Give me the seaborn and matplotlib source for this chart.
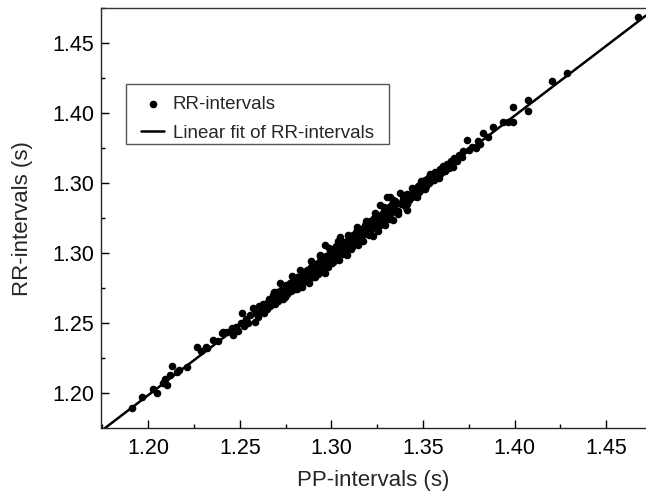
import matplotlib
matplotlib.use("Agg")
import matplotlib.pyplot as plt
from matplotlib.patches import Rectangle
from matplotlib.ticker import MultipleLocator, FixedLocator, FormatStrFormatter
import seaborn as sns

# PP / RR intervals (seconds)
pp_intervals = [
    1.1913, 1.1967, 1.2027, 1.2049, 1.2079, 1.2090, 1.2100, 1.2120, 1.2128, 1.2155, 1.2170, 1.2210,
    1.2264, 1.2290, 1.2315, 1.2319, 1.2355, 1.2380, 1.2401, 1.2409, 1.2430,
    1.2455, 1.2462, 1.2480, 1.2490, 1.2510, 1.2505, 1.2520, 1.2535, 1.2545, 1.2555, 1.2571, 1.2582, 1.2590, 1.2600, 1.2605,
    1.2615, 1.2625, 1.2630, 1.2646, 1.2650, 1.2660, 1.2665, 1.2675, 1.2680, 1.2690, 1.2700, 1.2705, 1.2710,
    1.2719, 1.2725, 1.2730, 1.2740, 1.2746, 1.2750, 1.2755, 1.2760, 1.2770, 1.2775, 1.2780, 1.2791, 1.2795,
    1.2800, 1.2805, 1.2810, 1.2815, 1.2820, 1.2828, 1.2830, 1.2835, 1.2840, 1.2845, 1.2850, 1.2855, 1.2860, 1.2865,
    1.2870, 1.2875, 1.2883, 1.2885, 1.2890, 1.2895, 1.2900, 1.2905, 1.2910, 1.2915, 1.2920, 1.2925, 1.2930, 1.2937,
    1.2940, 1.2945, 1.2950, 1.2955, 1.2960, 1.2965, 1.2967, 1.2970, 1.2975, 1.2980, 1.2985, 1.2990, 1.2995,
    1.3000, 1.3005, 1.3010, 1.3015, 1.3020, 1.3025, 1.3030, 1.3035, 1.3040, 1.3046, 1.3050, 1.3055, 1.3060, 1.3065,
    1.3070, 1.3075, 1.3083, 1.3085, 1.3090, 1.3095, 1.3100, 1.3105, 1.3110, 1.3115, 1.3120, 1.3125, 1.3130,
    1.3135, 1.3140, 1.3145, 1.3150, 1.3155, 1.3160, 1.3165, 1.3170, 1.3175, 1.3180, 1.3185, 1.3192, 1.3195,
    1.3200, 1.3205, 1.3210, 1.3215, 1.3220, 1.3228, 1.3230, 1.3235, 1.3240, 1.3245, 1.3250, 1.3255,
    1.3260, 1.3265, 1.3270, 1.3275, 1.3280, 1.3285, 1.3290, 1.3295, 1.3300, 1.3304, 1.3310, 1.3315,
    1.3319, 1.3325, 1.3330, 1.3335, 1.3340, 1.3345, 1.3350, 1.3360, 1.3365, 1.3374, 1.3380, 1.3390,
    1.3400, 1.3410, 1.3415, 1.3425, 1.3439, 1.3445, 1.3455, 1.3465, 1.3470, 1.3480, 1.3490, 1.3500,
    1.3510, 1.3515, 1.3525, 1.3535, 1.3545, 1.3555, 1.3565, 1.3575, 1.3585, 1.3590, 1.3600,
    1.3610, 1.3620, 1.3630, 1.3640, 1.3650, 1.3664, 1.3670, 1.3685, 1.3695, 1.3710, 1.3720, 1.3742, 1.3750, 1.3765, 1.3787, 1.3800, 1.3810,
    1.3829, 1.3856, 1.3883, 1.3938, 1.3965, 1.3992, 1.3992, 1.4074, 1.4074, 1.4202, 1.4287, 1.4675,
    # edges of the dense band
    1.2685, 1.2735, 1.2785, 1.2812, 1.2838, 1.2862, 1.2888, 1.2912, 1.2938, 1.2962, 1.2988, 1.3012,
    1.3038, 1.3062, 1.3088, 1.3112, 1.3138, 1.3162, 1.3188, 1.3212, 1.3238, 1.3262, 1.3288, 1.3312,
    1.3338, 1.3362, 1.3388, 1.3412, 1.3438, 1.3462, 1.3488, 1.3512, 1.3538, 1.3562,
]
rr_intervals = [
    1.1893, 1.1976, 1.2029, 1.2000, 1.2076, 1.2100, 1.2059, 1.2130, 1.2195, 1.2154, 1.2165, 1.2190,
    1.2329, 1.2300, 1.2333, 1.2320, 1.2381, 1.2370, 1.2433, 1.2440, 1.2435,
    1.2464, 1.2416, 1.2470, 1.2445, 1.2571, 1.2500, 1.2480, 1.2530, 1.2505, 1.2560, 1.2609, 1.2511, 1.2575, 1.2548, 1.2620,
    1.2590, 1.2640, 1.2570, 1.2643, 1.2600, 1.2670, 1.2625, 1.2650, 1.2700, 1.2640, 1.2690, 1.2720, 1.2660,
    1.2786, 1.2740, 1.2690, 1.2725, 1.2690, 1.2770, 1.2745, 1.2710, 1.2760, 1.2790, 1.2730, 1.2810, 1.2770,
    1.2745, 1.2800, 1.2830, 1.2770, 1.2810, 1.2881, 1.2790, 1.2840, 1.2760, 1.2820, 1.2860, 1.2800, 1.2845, 1.2880,
    1.2820, 1.2790, 1.2821, 1.2870, 1.2905, 1.2850, 1.2880, 1.2830, 1.2920, 1.2870, 1.2900, 1.2850, 1.2940, 1.2988,
    1.2900, 1.2870, 1.2950, 1.2869, 1.2920, 1.3060, 1.2857, 1.2980, 1.2940, 1.2900, 1.2970, 1.3010, 1.2950,
    1.2990, 1.2930, 1.3030, 1.2970, 1.3010, 1.3050, 1.2980, 1.3020, 1.2950, 1.3119, 1.3060, 1.3000, 1.3040, 1.3080,
    1.3010, 1.3060, 1.2988, 1.3090, 1.3040, 1.3110, 1.3070, 1.3030, 1.3100, 1.3130, 1.3060, 1.3110, 1.3080,
    1.3150, 1.3100, 1.3060, 1.3140, 1.3170, 1.3110, 1.3150, 1.3090, 1.3180, 1.3140, 1.3200, 1.3214, 1.3150,
    1.3190, 1.3130, 1.3230, 1.3170, 1.3210, 1.3120, 1.3250, 1.3190, 1.3230, 1.3270, 1.3200, 1.3160,
    1.3260, 1.3345, 1.3230, 1.3280, 1.3210, 1.3300, 1.3250, 1.3200, 1.3310, 1.3405, 1.3270, 1.3330,
    1.3404, 1.3290, 1.3350, 1.3240, 1.3320, 1.3370, 1.3300, 1.3360, 1.3280, 1.3429, 1.3350, 1.3390,
    1.3340, 1.3310, 1.3420, 1.3380, 1.3405, 1.3450, 1.3410, 1.3404, 1.3480, 1.3440, 1.3500, 1.3460,
    1.3520, 1.3480, 1.3540, 1.3500, 1.3560, 1.3520, 1.3580, 1.3545, 1.3536, 1.3600, 1.3570,
    1.3620, 1.3590, 1.3640, 1.3610, 1.3660, 1.3619, 1.3680, 1.3660, 1.3700, 1.3690, 1.3730, 1.3810, 1.3740, 1.3760, 1.3750, 1.3800, 1.3780,
    1.3857, 1.3829, 1.3904, 1.3940, 1.3940, 1.3940, 1.4047, 1.4095, 1.4016, 1.4231, 1.4286, 1.4690,
    # edges of the dense band
    1.2725, 1.2675, 1.2835, 1.2742, 1.2868, 1.2812, 1.2948, 1.2832, 1.2978, 1.2892, 1.3038, 1.2942,
    1.3088, 1.2992, 1.3128, 1.3042, 1.3188, 1.3092, 1.3228, 1.3152, 1.3288, 1.3192, 1.3328, 1.3242,
    1.3378, 1.3302, 1.3418, 1.3352, 1.3468, 1.3412, 1.3518, 1.3462, 1.3568, 1.3522,
]

y_tick_values = [1.20, 1.25, 1.30, 1.35, 1.40, 1.45]
y_tick_labels = ["1.20", "1.25", "1.30", "1.30", "1.40", "1.45"]

sns.set_style("ticks")
plt.rcParams['font.family'] = ['Liberation Sans', 'DejaVu Sans']
plt.rcParams['axes.linewidth'] = 1.0

fig = plt.figure(figsize=(6.46, 4.97), dpi=100)
ax = fig.add_axes([101 / 646, 69 / 497, 545 / 646, 419.7 / 497])
ax.set_xlim(1.1742, 1.4717)
ax.set_ylim(1.1752, 1.4750)

sns.regplot(x=pp_intervals, y=rr_intervals, ax=ax, ci=None, truncate=False, color="black",
            scatter_kws=dict(s=30, alpha=1, linewidths=0),
            line_kws=dict(lw=1.8))
ax.collections[0].set_label("RR-intervals")
ax.lines[0].set_label("Linear fit of RR-intervals")

ax.set_xlim(1.1742, 1.4717)
ax.set_ylim(1.1752, 1.4750)

ax.xaxis.set_major_locator(FixedLocator([1.20, 1.25, 1.30, 1.35, 1.40, 1.45]))
ax.xaxis.set_major_formatter(FormatStrFormatter("%.2f"))
ax.xaxis.set_minor_locator(MultipleLocator(0.025))
ax.yaxis.set_major_locator(FixedLocator(y_tick_values))
ax.set_yticklabels(y_tick_labels)
ax.yaxis.set_minor_locator(MultipleLocator(0.025))
ax.tick_params(which="both", direction="in", labelsize=15.5, colors="black")
ax.tick_params(which="major", length=6, width=1)
ax.tick_params(which="minor", length=3, width=1)
ax.tick_params(axis="x", pad=7)
ax.tick_params(axis="y", pad=5)

ax.spines["right"].set_visible(False)
ax.spines["top"].set_color("#333333")

ax.set_xlabel("PP-intervals (s)", fontsize=16, labelpad=8)
ax.set_ylabel("RR-intervals (s)", fontsize=16, labelpad=14)

# legend box drawn separately so its padding can match the original
ax.add_patch(Rectangle((126 / 646, 1 - 144 / 497), 263 / 646, 60 / 497,
                       transform=fig.transFigure, facecolor="white",
                       edgecolor="#555555", lw=1.0, zorder=4))
leg = ax.legend(loc="upper left", bbox_to_anchor=(141 / 646, 1 - 96 / 497),
                bbox_transform=fig.transFigure, borderaxespad=0, borderpad=0,
                fontsize=13.5, frameon=False,
                handlelength=1.25, handletextpad=0.45, labelspacing=0.63)
leg.set_zorder(5)

fig.savefig("out.png", dpi=100)
